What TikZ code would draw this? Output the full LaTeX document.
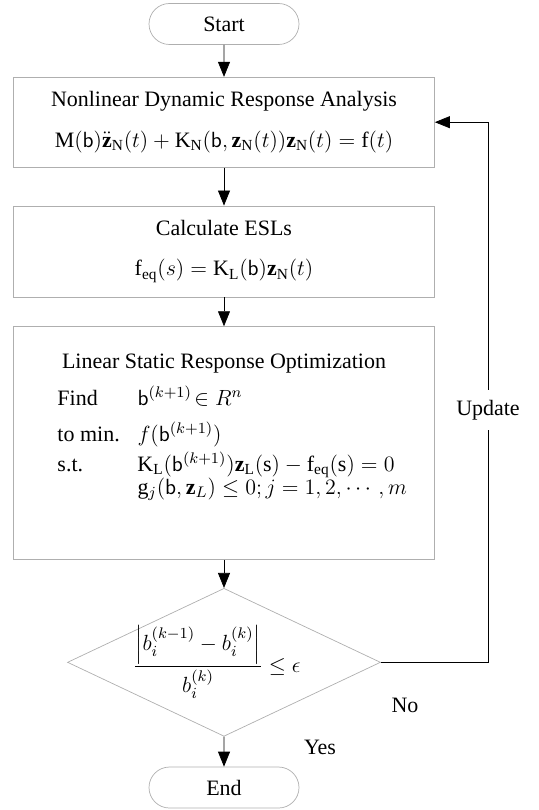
\documentclass[tikz,border=0pt]{standalone}
\usepackage{fix-cm}
\usepackage{amsmath}
\usepackage{fontspec}
\setmainfont{Liberation Serif}
\usepackage{tikz}
\usetikzlibrary{shapes.geometric, shapes.misc, arrows.meta, positioning}
\definecolor{boxgray}{RGB}{175,175,175}

\begin{document}
\begin{tikzpicture}[
    node distance = 0.64cm,
    every node/.style = {font=\fontsize{12.5}{15}\selectfont},
    term/.style   = {rounded rectangle, draw=boxgray, minimum width=3cm,
                     minimum height=0.82cm, inner sep=0pt},
    box/.style    = {rectangle, draw=boxgray, text width=8.22cm,
                     inner xsep=0.1cm, align=flush center},
    decide/.style = {diamond, draw=boxgray, aspect=2.1, minimum width=6.26cm,
                     minimum height=2.96cm, inner sep=0pt},
    arrow/.style  = {-{Triangle[length=0.3cm, width=0.24cm]}, thin},
]
\useasboundingbox (0,0) rectangle (10.76,-16.2);

\node[term] (start) at (4.48,-0.48) {Start};
\node[box, minimum height=1.8cm, below=of start] (nda)
  {Nonlinear Dynamic Response Analysis\\[8pt]
   $\mathrm{M}(\mathsf{b})\ddot{\mathbf{z}}_{\mathrm{N}}(t)+\mathrm{K}_{\mathrm{N}}(\mathsf{b},\mathbf{z}_{\mathrm{N}}(t))\mathbf{z}_{\mathrm{N}}(t)=\mathrm{f}(t)$};
\node[box, minimum height=1.82cm, below=0.76cm of nda] (esl)
  {Calculate ESLs\\[8pt]
   $\mathrm{f}_{\mathrm{eq}}(s)=\mathrm{K}_{\mathrm{L}}(\mathsf{b})\mathbf{z}_{\mathrm{N}}(t)$};
\node[box, minimum height=4.66cm, below=0.58cm of esl] (opt)
  {Linear Static Response Optimization\\[6pt]
   \begin{tabular}[t]{@{\hspace{0.78cm}}p{1.6cm}@{}p{5.84cm}@{}}
   Find    & $\mathsf{b}^{(k+1)}\!\in R^n$\\[5pt]
   to min. & $f(\mathsf{b}^{(k+1)})$\\[1.5pt]
   s.t.    & $\mathrm{K}_{\mathrm{L}}(\mathsf{b}^{(k+1)})\mathbf{z}_{\mathrm{L}}(\mathrm{s})-\mathrm{f}_{\mathrm{eq}}(\mathrm{s})=0$\\[-2pt]
           & $\mathrm{g}_j(\mathsf{b},\mathbf{z}_L)\le 0; j=1,2,\cdots,m$\\[0.6cm]
   \end{tabular}};
\node[decide, below=0.56cm of opt] (dec) {};
\node (test) at ([xshift=-0.14cm]dec.center)
  {$\dfrac{\left|b_i^{(k-1)}-b_i^{(k)}\right|}{b_i^{(k)}}\le\epsilon$};
\node[term, below=0.6cm of dec] (end) {End};

\node[inner sep=0.2cm] (upd) at (9.76,-8.2) {Update};
\node (no)  at (8.1,-14.1)  {No};
\node (yes) at (6.4,-14.94) {Yes};

\draw[arrow] (start) -- (nda);
\draw[arrow] (nda) -- (esl);
\draw[arrow] (esl) -- (opt);
\draw[arrow] (opt) -- (dec);
\draw[arrow] (dec) -- (end);
\draw (dec.east) -| (upd.south);
\draw[arrow] (upd.north) |- (nda.east);
\end{tikzpicture}
\end{document}
